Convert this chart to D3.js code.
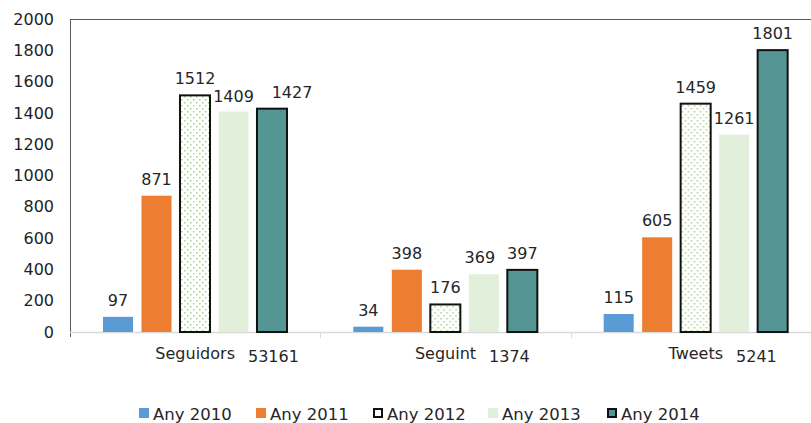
<!DOCTYPE html>
<html>
<head>
<meta charset="utf-8">
<script src="https://cdn.jsdelivr.net/npm/d3@7"></script>
<style>
html,body{margin:0;padding:0;background:#fff;}
svg{display:block;}
text{font-family:"DejaVu Sans",Verdana,sans-serif;}
</style>
</head>
<body>
<svg id="chart" width="811" height="423"></svg>
<script>
const categories = ["Seguidors", "Seguint", "Tweets"];
const categoryTotals = ["53161", "1374", "5241"];
const seriesNames = ["Any 2010", "Any 2011", "Any 2012", "Any 2013", "Any 2014"];
const any2010 = [97, 34, 115];
const any2011 = [871, 398, 605];
const any2012 = [1512, 176, 1459];
const any2013 = [1409, 369, 1261];
const any2014 = [1427, 397, 1801];
const yTicks = [0, 200, 400, 600, 800, 1000, 1200, 1400, 1600, 1800, 2000];

(function () {
const seriesValues = [any2010, any2011, any2012, any2013, any2014];
const styles = [
  {fill: "#5B9BD5", stroke: "none", sw: 0},
  {fill: "#ED7D31", stroke: "none", sw: 0},
  {fill: "url(#dots)", stroke: "#111", sw: 2},
  {fill: "#E2EFDA", stroke: "none", sw: 0},
  {fill: "#539694", stroke: "#111", sw: 2}
];
// label placement tweaks (category index-series index): [dx, dy]
const nudge = {"0-4": [20, 0], "0-3": [0, 1.5], "1-3": [-4, 0]};

const svg = d3.select("#chart");
const defs = svg.append("defs");
const pat = defs.append("pattern").attr("id", "dots").attr("patternUnits", "userSpaceOnUse")
  .attr("width", 6).attr("height", 6);
pat.append("rect").attr("width", 6).attr("height", 6).attr("fill", "#fff");
pat.append("rect").attr("x", 0).attr("y", 0).attr("width", 1.5).attr("height", 1.5).attr("fill", "#A9D18E");
pat.append("rect").attr("x", 3).attr("y", 3).attr("width", 1.5).attr("height", 1.5).attr("fill", "#A9D18E");

const pLeft = 70, pRight = 821, pTop = 19, pBottom = 332;
const x0 = d3.scaleBand().domain(categories).range([pLeft, pRight]).padding(0);
const x1 = d3.scaleBand().domain(d3.range(5)).range([33, 217]).paddingInner(0.22).paddingOuter(0);
const y = d3.scaleLinear().domain([0, 2000]).range([pBottom, pTop]);

svg.append("line").attr("x1", pLeft).attr("x2", 811).attr("y1", pTop + 0.5).attr("y2", pTop + 0.5)
  .attr("stroke", "#595959").attr("stroke-width", 1);
svg.append("line").attr("x1", pLeft + 0.5).attr("x2", pLeft + 0.5).attr("y1", pTop).attr("y2", pBottom + 5)
  .attr("stroke", "#595959").attr("stroke-width", 1);

const yAxis = d3.axisLeft(y).tickValues(yTicks).tickSize(0).tickPadding(16).tickFormat(d3.format("d"));
const gy = svg.append("g").attr("transform", `translate(${pLeft},0)`).call(yAxis);
gy.select(".domain").remove();
gy.selectAll("text").attr("font-size", "16px").attr("fill", "#1f1f1f")
  .attr("font-family", "'DejaVu Sans',Verdana,sans-serif");

svg.append("line").attr("x1", pLeft).attr("x2", 811).attr("y1", pBottom + 0.5).attr("y2", pBottom + 0.5)
  .attr("stroke", "#D9D9D9").attr("stroke-width", 1.5);
categories.slice(1).forEach(c => {
  const xx = Math.round(x0(c)) + 0.5;
  svg.append("line").attr("x1", xx).attr("x2", xx).attr("y1", pBottom).attr("y2", pBottom + 6)
    .attr("stroke", "#D9D9D9").attr("stroke-width", 1);
});

const groups = svg.selectAll("g.grp").data(categories).enter().append("g")
  .attr("class", "grp").attr("transform", d => `translate(${x0(d)},0)`);
seriesValues.forEach((vals, si) => {
  const st = styles[si];
  groups.append("rect")
    .attr("x", x1(si)).attr("width", x1.bandwidth())
    .attr("y", (d, ci) => y(vals[ci]))
    .attr("height", (d, ci) => pBottom - y(vals[ci]))
    .attr("fill", st.fill)
    .attr("stroke", st.stroke).attr("stroke-width", st.sw);
  groups.append("text")
    .attr("x", (d, ci) => x1(si) + x1.bandwidth() / 2 + ((nudge[ci + "-" + si] || [0, 0])[0]))
    .attr("y", (d, ci) => y(vals[ci]) - 11 + ((nudge[ci + "-" + si] || [0, 0])[1]))
    .attr("text-anchor", "middle").attr("font-size", "16px").attr("fill", "#262626")
    .text((d, ci) => vals[ci]);
});

categories.forEach((c, i) => {
  const cx = x0(c) + x0.bandwidth() / 2;
  const t = svg.append("text").attr("x", cx).attr("y", 359).attr("text-anchor", "middle")
    .attr("font-size", "16px").attr("fill", "#262626").text(c);
  const w = t.node().getComputedTextLength();
  svg.append("text").attr("x", cx + w / 2 + 13).attr("y", 362)
    .attr("font-size", "16px").attr("fill", "#262626").text(categoryTotals[i]);
});

const legendX = [139, 256, 373, 488, 607];
seriesNames.forEach((n, i) => {
  const st = styles[i];
  const lx = legendX[i];
  svg.append("rect").attr("x", lx + (st.sw ? 1 : 0)).attr("y", 408 + (st.sw ? 1 : 0))
    .attr("width", st.sw ? 8 : 10).attr("height", st.sw ? 8 : 10)
    .attr("fill", i === 2 ? "#fff" : st.fill).attr("stroke", st.stroke).attr("stroke-width", st.sw);
  svg.append("text").attr("x", lx + 14).attr("y", 419.5).attr("font-size", "16.5px")
    .attr("fill", "#262626").text(n);
});
})();
</script>
</body>
</html>
